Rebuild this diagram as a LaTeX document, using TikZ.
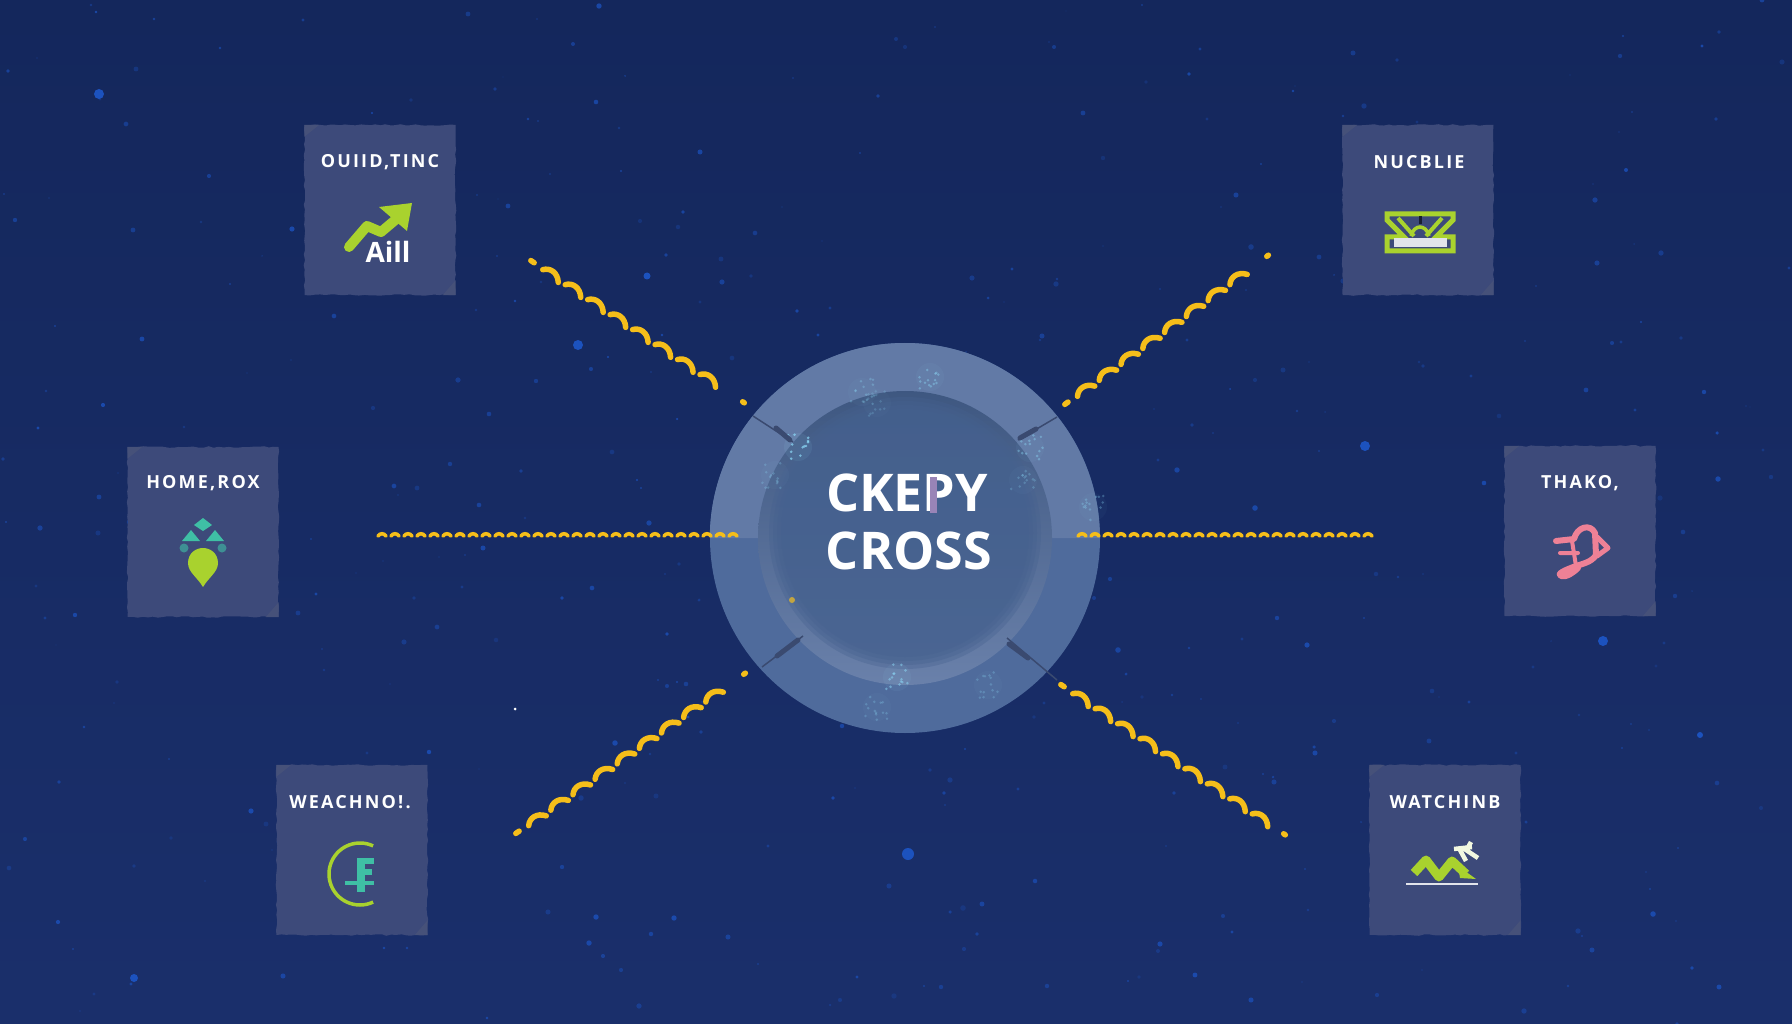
\documentclass[tikz,border=0pt]{standalone}
\usepackage{fontspec}
\setmainfont{Open Sans}
\newfontfamily\cardfont[LetterSpace=12]{Open Sans}
\usetikzlibrary{decorations.pathmorphing,decorations.markings}
\definecolor{bgtop}{HTML}{14275C}
\definecolor{bgbot}{HTML}{1A2F6B}
\definecolor{speckblue}{HTML}{1C52BE}
\definecolor{cardfill}{HTML}{3D4A7A}
\definecolor{cardcorner}{HTML}{465179}
\definecolor{ringtop}{HTML}{627AA6}
\definecolor{ringbot}{HTML}{4F6B9C}
\definecolor{discfill}{HTML}{45618F}
\definecolor{gold}{HTML}{F5BE1A}
\definecolor{lime}{HTML}{A9D22E}
\definecolor{teal}{HTML}{3FBFA5}
\definecolor{pinkicon}{HTML}{EE8196}
\definecolor{tickdark}{HTML}{3A4A70}
\tikzset{
card/.style={fill=cardfill,minimum width=151pt,minimum height=170pt,inner sep=0pt,
  decorate,decoration={random steps,segment length=5pt,amplitude=0.8pt}},
cardtext/.style={text=white,font=\cardfont\fontsize{18}{20}\selectfont\bfseries,inner sep=0pt},
hubtext/.style={text=white,font=\fontsize{52}{56}\selectfont\bfseries,inner sep=0pt},
goldfat/.style={draw=gold,line width=5.5pt,line cap=round},
goldthin/.style={draw=gold,line width=3.6pt,line cap=round},
rays/.style={decorate,decoration={markings,
  mark=between positions 26pt and -20pt step 27pt with {\draw[goldfat](-10,1)..controls(-5,-5)and(4,-5)..(10,3);},
  mark=at position 3pt with {\draw[goldfat](-2,0)--(2,0);},
  mark=at position -3pt with {\draw[goldfat](-1,0)--(1,0);}}},
raysfine/.style={decorate,decoration={markings,
  mark=between positions 4pt and -4pt step 13pt with {\draw[goldthin](-4,1)..controls(-2,-2)and(2,-2)..(4,1);}}},
tick/.style={draw=tickdark,line width=1.5pt},
tickfat/.style={draw=tickdark,line width=5pt,line cap=round},
}
\begin{document}
\begin{tikzpicture}[x=1pt,y=-1pt]
\useasboundingbox(0,0)rectangle(1792,1024);
\shade[top color=bgtop,bottom color=bgbot](0,0)rectangle(1792,1024);
\pgfmathsetseed{11}
\foreach \i in {1,...,420}{
\pgfmathsetmacro\sx{random(0,1792)}
\pgfmathsetmacro\sy{random(0,1024)}
\pgfmathsetmacro\sr{0.6+2.2*rnd}
\pgfmathsetmacro\so{0.25+0.55*rnd}
\fill[speckblue,opacity=\so](\sx,\sy)circle(\sr pt);
}
\foreach \sx/\sy/\sr in {1365/446/5,908/854/6,1603/641/5,99/94/5,647/276/3.5,578/345/5,1700/735/3,134/978/4}
\fill[speckblue](\sx,\sy)circle(\sr pt);
\fill[white](515,709)circle(1.5pt);

\node[card](cardA)at(380,210){};
\node[card](cardB)at(1418,210){};
\node[card](cardC)at(203,532){};
\node[card](cardD)at(1580,531){};
\node[card](cardE)at(352,850){};
\node[card](cardF)at(1445,850){};
\foreach \c in {cardA,cardB,cardC,cardD,cardE,cardF}{
\fill[cardcorner](\c.north west)--++(15,0)--++(-15,12)--cycle;
\fill[cardcorner](\c.south east)--++(-13,0)--++(13,-15)--cycle;
}
\node[cardtext](labelA)at(380,162){OUIID,TINC};
\node[cardtext](labelB)at(1419,162){NUCBLIE};
\node[cardtext](labelC)at(203,483){HOME,ROX};
\node[cardtext](labelD)at(1580,483){THAKO,};
\node[cardtext](labelE)at(350,802){WEACHNO!.};
\node[cardtext](labelF)at(1445,802){WATCHINB};

\draw[lime,line width=10pt,line cap=round,line join=round](349,247)--(367,226)--(381,232)--(400,216);
\fill[lime](379,207)--(412,203)--(407,231)--cycle;
\node[text=white,font=\fontsize{28}{30}\selectfont\bfseries,inner sep=0pt](labelAll)at(388,252){Aill};

\draw[lime,line width=5pt,line join=miter](1387,214)--(1453,214)--(1453,220)--(1436,237)--(1453,237)--(1453,251)--(1387,251)--(1387,237)--(1404,237)--(1387,220)--cycle;
\draw[lime,line width=4pt](1398,218)--(1414,236)(1442,218)--(1426,236);
\draw[lime,line width=3.5pt](1411,236)..controls(1414,224)and(1426,224)..(1429,236);
\draw[cardfill!40!black,line width=3pt](1420,216)--(1420,224);
\fill[white!85!cardfill](1394,238)rectangle(1447,247);

\fill[teal](203,518)--(212,525)--(203,531)--(194,525)--cycle;
\fill[teal](191,530)--(200,541)--(182,541)--cycle;
\fill[teal](215,530)--(224,541)--(206,541)--cycle;
\fill[teal!60!cardfill](184,548)circle(4.5pt);
\fill[teal!60!cardfill](222,548)circle(4.5pt);
\fill[lime](203,587)..controls(197,577)and(188,572)..(188,563)..controls(188,553)and(196,548)..(203,548)..controls(210,548)and(218,553)..(218,563)..controls(218,572)and(209,577)..(203,587)--cycle;

\draw[pinkicon,line width=6pt,line cap=round,line join=round](1556,541)--(1574,539)..controls(1577,527)and(1590,523)..(1595,533)--(1596,555)..controls(1592,562)and(1582,564)..(1576,566)..controls(1565,570)and(1556,574)..(1561,576)..controls(1566,578)and(1574,572)..(1578,568);
\draw[pinkicon,line width=5pt,line cap=round,line join=round](1597,537)--(1608,548)--(1597,556);
\draw[pinkicon,line width=4pt,line cap=round](1560,553)--(1578,553)(1572,541)--(1576,566);

\draw[lime,line width=3.5pt](360+31*cos 65,874-31*sin 65)arc[start angle=-65,end angle=-295,radius=31];
\draw[teal,line width=8pt](361,858)--(361,892);
\draw[teal,line width=6pt](358,861)--(374,861)(358,872)--(372,872);
\draw[teal,line width=3.5pt](345,883)--(374,883);

\draw[lime,line width=9pt,line join=round](1414,873)--(1426,860)--(1439,877)--(1452,861)--(1466,874);
\fill[lime](1458,866)--(1476,879)--(1460,878)--cycle;
\draw[white!85!cardfill,line width=2.5pt](1406,884)--(1478,884);
\draw[white!85!lime,line width=4.5pt](1454,849)--(1472,847)(1460,850)--(1466,861)(1463,848)--(1478,858)(1471,842)--(1466,851);

\node[circle,fill=ringbot,minimum size=390pt,inner sep=0pt](hub)at(905,538){};
\fill[ringtop](hub.west)arc[start angle=180,end angle=360,radius=195]--cycle;
\shade[top color=discfill!90!black,middle color=discfill,bottom color=ringtop!95!white](905,538)circle(147pt);
\foreach \r in {136,132,128,124}
\fill[discfill,opacity=.35](905,533)circle(\r pt);
\pgfmathsetseed{5}
\foreach \px/\py/\po in {798/447/.7,930/377/.4,862/392/.3,877/403/.2,1030/448/.4,1023/480/.25,897/677/.5,877/707/.25,1093/507/.3,988/685/.25,775/475/.25}{
\fill[cyan!40!white,opacity=.12*\po](\px,\py)circle(14pt);
\foreach \j in {1,...,14}{
\pgfmathsetmacro\dx{\px+rand*13}
\pgfmathsetmacro\dy{\py+rand*13}
\fill[cyan!45!white,opacity=\po](\dx,\dy)circle(1.4pt);
}}
\draw[tick](753,416)--(793,442);\draw[tickfat](776,428)--(790,440);
\draw[tick](1057,417)--(1018,440);\draw[tickfat](1036,429)--(1020,438);
\draw[tick](762,667)--(803,636);\draw[tickfat](777,656)--(798,640);
\draw[tick](1007,638)--(1057,680);\draw[tickfat](1009,644)--(1028,658);
\fill[gold!70!ringbot](792,600)circle(3pt);

\coordinate(rayA1)at(530,260);\coordinate(rayA2)at(746,404);
\coordinate(rayB1)at(1270,254);\coordinate(rayB2)at(1064,405);
\coordinate(rayC1)at(378,535);\coordinate(rayC2)at(742,535);
\coordinate(rayD1)at(1378,535);\coordinate(rayD2)at(1078,535);
\coordinate(rayE1)at(515,834);\coordinate(rayE2)at(747,672);
\coordinate(rayF1)at(1287,836);\coordinate(rayF2)at(1060,684);
\draw[rays](rayA1)--(rayA2);
\draw[rays](rayB2)--(rayB1);
\draw[raysfine](rayC1)--(rayC2);
\draw[raysfine](rayD2)--(rayD1);
\draw[rays](rayE1)--(rayE2);
\draw[rays](rayF2)--(rayF1);

\node[hubtext](hubA)at(907,493){CKEPY};
\node[hubtext](hubB)at(909,551){CROSS};
\fill[white!55!violet!55!ringtop](930,477)rectangle(937,513);
\end{tikzpicture}
\end{document}
